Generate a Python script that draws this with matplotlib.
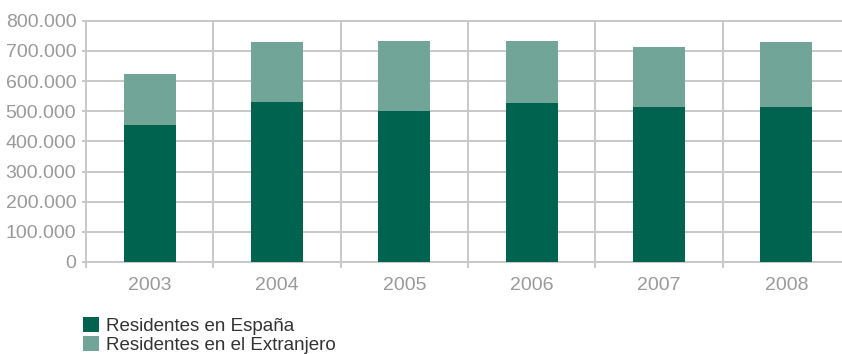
import matplotlib.pyplot as plt
from matplotlib.ticker import MultipleLocator, FuncFormatter
from matplotlib.patches import Patch

plt.rcParams['font.family'] = ['Liberation Sans', 'DejaVu Sans']

years = ['2003', '2004', '2005', '2006', '2007', '2008']
espana = [454000, 530000, 500000, 527000, 513000, 514000]
extranjero = [169000, 199000, 232000, 205000, 199000, 215000]
labels = ['Residentes en España', 'Residentes en el Extranjero']

dark = '#00634f'
light = '#70a598'
grid = '#c8c8cb'
tickcol = '#9a9a9a'

fig = plt.figure(figsize=(8.42, 3.54), dpi=100)
ax = fig.add_axes([86/842, 92/354, 764/842, 241.3/354])

x = range(len(years))
ax.bar(x, espana, width=0.41, color=dark, zorder=3)
ax.bar(x, extranjero, width=0.41, bottom=espana, color=light, zorder=3)

ax.set_xlim(-0.5, len(years) - 0.5)
ax.set_ylim(0, 800000)

ax.yaxis.set_major_locator(MultipleLocator(100000))
ax.yaxis.set_major_formatter(FuncFormatter(lambda v, p: f"{int(v):,}".replace(",", ".")))
ax.set_xticks(list(x))
ax.set_xticklabels(years)
ax.set_xticks([i - 0.5 for i in range(len(years) + 1)], minor=True)

ax.grid(True, axis='y', which='major', color=grid, lw=1.4, zorder=0)
ax.grid(True, axis='x', which='minor', color=grid, lw=1.4, zorder=0)

ax.tick_params(axis='y', which='major', length=3, width=1.4, color=grid,
               labelcolor=tickcol, labelsize=14, pad=4)
ax.tick_params(axis='x', which='major', length=0, labelcolor=tickcol,
               labelsize=14, pad=11)
ax.tick_params(axis='x', which='minor', length=4, width=1.4, color=grid)

for s in ax.spines.values():
    s.set_color(grid)
    s.set_linewidth(1.4)

handles = [Patch(facecolor=dark, edgecolor='none'), Patch(facecolor=light, edgecolor='none')]
fig.legend(handles, labels, loc='upper left', bbox_to_anchor=(83/842, 1 - 317/354),
           frameon=False, fontsize=13.5, handlelength=0.85, handleheight=0.85,
           handletextpad=0.4, labelspacing=0.05, borderpad=0, borderaxespad=0,
           labelcolor='#333333')

fig.savefig('out.png', dpi=100)
